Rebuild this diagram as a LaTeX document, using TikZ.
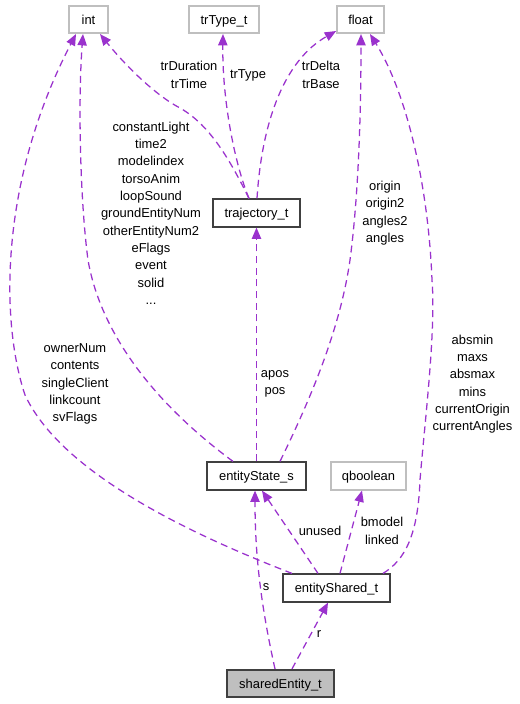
\documentclass[tikz,border=0pt]{standalone}
\usepackage{fontspec}
\setmainfont{Liberation Sans}
\usetikzlibrary{arrows.meta,calc}
\definecolor{edgecol}{HTML}{9A32CD}
\definecolor{extcol}{HTML}{BFBFBF}
\definecolor{boxcol}{HTML}{404040}
\begin{document}
\begin{tikzpicture}[x=0.75pt,y=-0.75pt,
  every node/.style={font=\fontsize{9.7}{13}\selectfont, inner sep=0pt},
  boxbase/.style={minimum height=20.5pt, text height=8pt, text depth=1.2pt},
  extbox/.style={boxbase, draw=extcol, line width=1.3pt, fill=white},
  classbox/.style={boxbase, draw=boxcol, line width=1.4pt, fill=white},
  rootbox/.style={boxbase, draw=boxcol, line width=1.4pt, fill=extcol},
  edge/.style={draw=edgecol, line width=0.95pt, dash pattern=on 5.25pt off 3.5pt,
    -{Triangle[length=8.5pt,width=7pt]}},
  lbl/.style={align=center}]
\useasboundingbox (0,0) rectangle (519,704);
% nodes
\node[extbox, minimum width=29.25pt] (int) at (88.5,19.5) {int};
\node[extbox, minimum width=52.5pt] (trtype) at (224,19.5) {trType\_t};
\node[extbox, minimum width=35.25pt] (float) at (360.5,19.5) {float};
\node[classbox, minimum width=65.25pt] (traj) at (256.5,213) {trajectory\_t};
\node[classbox, minimum width=74.25pt] (es) at (256.5,476) {entityState\_s};
\node[extbox, minimum width=56.25pt] (qb) at (368.5,476) {qboolean};
\node[classbox, minimum width=80.25pt] (esh) at (336.5,588) {entityShared\_t};
\node[rootbox, minimum width=80.25pt] (se) at (280.5,683.5) {sharedEntity\_t};
% edges
\draw[edge] ($(esh.north)+(-44.5,0)$) .. controls (180,530) and (60,470) .. (25,395)
  .. controls (0,320) and (0,180) .. ($(int.south)+(-12.5,0)$);
\draw[edge] ($(es.north)+(-23.5,0)$) .. controls (150,400) and (100,330) .. (88,260)
  .. controls (80,200) and (78,100) .. ($(int.south)+(-5.5,0)$);
\draw[edge] ($(traj.north)+(-7.5,0)$) .. controls (230,160) and (210,125) .. (180,108)
  .. controls (155,95) and (125,65) .. ($(int.south)+(11.5,0)$);
\draw[edge] ($(traj.north)+(-7.5,0)$) .. controls (235,165) and (222,100) .. ($(trtype.south)+(-1,0)$);
\draw[edge] ($(traj.north)+(0.5,0)$) .. controls (262,120) and (285,60) .. ($(float.south west)+(0,-3)$);
\draw[edge] ($(es.north)+(23.5,0)$) .. controls (310,400) and (340,330) .. (350,260)
  .. controls (358,200) and (361,120) .. ($(float.south)+(0.5,0)$);
\draw[edge] (es.north) -- (traj.south);
\draw[edge] ($(esh.north)+(46.5,0)$) .. controls (405,560) and (418,535) .. (420,480)
  .. controls (425,420) and (436,330) .. (432,280)
  .. controls (428,180) and (405,90) .. ($(float.south)+(9.5,0)$);
\draw[edge] ($(esh.north)+(-18.5,0)$) -- ($(es.south)+(5.5,0)$);
\draw[edge] ($(esh.north)+(3.5,0)$) -- ($(qb.south)+(-6.5,0)$);
\draw[edge] ($(se.north)+(-5.5,0)$) .. controls (262,610) and (255,560) .. ($(es.south)+(-1.5,0)$);
\draw[edge] ($(se.north)+(11.5,0)$) -- ($(esh.south)+(-8.5,0)$);
% labels
\node[lbl] (l1) at (189,75) {trDuration\\trTime};
\node[lbl] (l2) at (248,75) {trType};
\node[lbl] (l3) at (321,75) {trDelta\\trBase};
\node[lbl] (l4) at (151,213) {constantLight\\time2\\modelindex\\torsoAnim\\loopSound\\groundEntityNum\\otherEntityNum2\\eFlags\\event\\solid\\...};
\node[lbl] (l5) at (385,213) {origin\\origin2\\angles2\\angles};
\node[lbl] (l6) at (275,384) {apos\\pos};
\node[lbl] (l7) at (75,384) {ownerNum\\contents\\singleClient\\linkcount\\svFlags};
\node[lbl] (l8) at (472.5,384) {absmin\\maxs\\absmax\\mins\\currentOrigin\\currentAngles};
\node[lbl] (l9) at (320,531) {unused};
\node[lbl] (l10) at (382,531) {bmodel\\linked};
\node[lbl] (l11) at (266,587) {s};
\node[lbl] (l12) at (319,634) {r};
\end{tikzpicture}
\end{document}
